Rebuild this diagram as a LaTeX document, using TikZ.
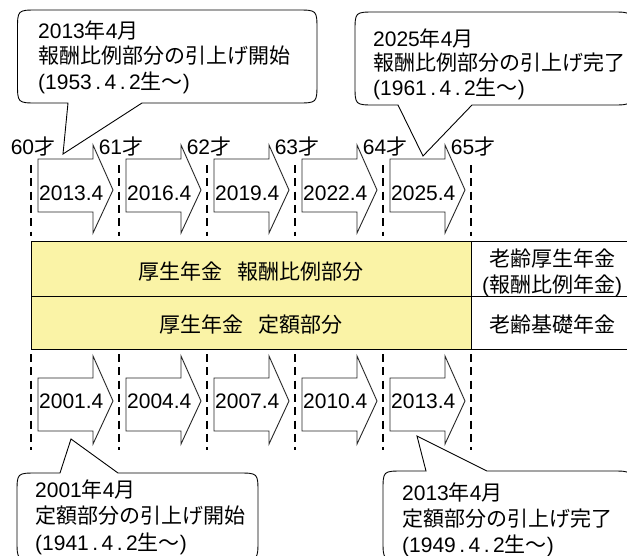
\documentclass[tikz,border=0pt]{standalone}
\usepackage{fontspec}
\setmainfont{Liberation Sans}
\newfontfamily\jfont{Noto Sans CJK JP}
\newcommand\J[1]{{\jfont #1}}
\newcommand\mydot{\hspace{3.5pt}.\hspace{3.5pt}}
\definecolor{yel}{RGB}{250,243,166}
\tikzset{
 txt/.style={inner sep=0pt, anchor=base west, font=\fontsize{21}{25}\selectfont},
 ctxt/.style={inner sep=0pt, anchor=base, font=\fontsize{21}{25}\selectfont},
 guideline/.style={draw=black, line width=2.2pt, dash pattern=on 8pt off 5.3pt},
 arrowbox/.style={draw=black!85, line width=0.9pt, fill=white, line join=miter},
 callbox/.style={draw=black, line width=0.9pt, fill=white},
 cellbox/.style={draw=black, line width=1.2pt, inner sep=0pt, anchor=north west},
}
% pointer on bottom edge
\newcommand\mycalloutdown[8]{%
 \draw[callbox] (#1+20,#2) -- (#3-20,#2) .. controls (#3,#2) .. (#3,#2+20)
  -- (#3,#4-20) .. controls (#3,#4) .. (#3-20,#4) -- (#6,#4) -- (#7,#8) -- (#5,#4)
  -- (#1+20,#4) .. controls (#1,#4) .. (#1,#4-20) -- (#1,#2+20)
  .. controls (#1,#2) .. (#1+20,#2) -- cycle;}
% pointer on top edge
\newcommand\mycalloutup[8]{%
 \draw[callbox] (#1+20,#2) -- (#5,#2) -- (#7,#8) -- (#6,#2) -- (#3-20,#2)
  .. controls (#3,#2) .. (#3,#2+20)
  -- (#3,#4-20) .. controls (#3,#4) .. (#3-20,#4)
  -- (#1+20,#4) .. controls (#1,#4) .. (#1,#4-20) -- (#1,#2+20)
  .. controls (#1,#2) .. (#1+20,#2) -- cycle;}
\begin{document}
\begin{tikzpicture}[x=1pt,y=-1pt]
\useasboundingbox (0,0) rectangle (627,555);
\clip (0,0) rectangle (627,555);
\fill[white] (0,0) rectangle (627,555);

% age labels
\foreach \a [count=\n from 0] in {60,61,62,63,64,65}
  \node[ctxt] (age\n) at (33+\n*88,154) {\a\J{才}};

% top arrows
\foreach \yr [count=\n from 0] in {2013.4,2016.4,2019.4,2022.4,2025.4}{
  \draw[arrowbox] (38+\n*88,159) -- (93+\n*88,159) -- (93+\n*88,145) -- (113+\n*88,190)
     -- (93+\n*88,233) -- (93+\n*88,212) -- (38+\n*88,212) -- cycle;
  \node[txt] (ta\n) at (39+\n*88,200) {\yr};
}
% bottom arrows
\foreach \yr [count=\n from 0] in {2001.4,2004.4,2007.4,2010.4,2013.4}{
  \draw[arrowbox] (38+\n*88,378) -- (93+\n*88,378) -- (93+\n*88,356) -- (113+\n*88,401)
     -- (93+\n*88,444) -- (93+\n*88,431) -- (38+\n*88,431) -- cycle;
  \node[txt] (ba\n) at (39+\n*88,408) {\yr};
}

% cells
\node[cellbox, fill=yel, minimum width=440pt, minimum height=54.5pt] (c1) at (31,241) {};
\node[cellbox, fill=yel, minimum width=440pt, minimum height=53.5pt] (c2) at (31,295.5) {};
\node[cellbox, fill=white, minimum width=160pt, minimum height=54.5pt] (c3) at (471,241) {};
\node[cellbox, fill=white, minimum width=160pt, minimum height=53.5pt] (c4) at (471,295.5) {};

\node[ctxt] (t1) at (251,279) {\J{厚生年金\hspace{16pt}報酬比例部分}};
\node[ctxt] (t2) at (251,332) {\J{厚生年金\hspace{16pt}定額部分}};
\node[ctxt] (t3) at (552,266.5) {\J{老齢厚生年金}};
\node[ctxt] (t4) at (552,292) {(\J{報酬比例年金})};
\node[ctxt] (t5) at (552,332) {\J{老齢基礎年金}};

% callouts
\mycalloutdown{17.5}{10}{317}{103}{68}{142}{63}{154}
\node[txt] (tl1) at (38,38) {2013\J{年}4\J{月}};
\node[txt] (tl2) at (38,63.5) {\J{報酬比例部分の引上げ開始}};
\node[txt] (tl3) at (38,89) {(1953\mydot4\mydot2\J{生～})};

\mycalloutdown{355}{12}{632}{105}{398}{472}{423}{156}
\node[txt] (tr1) at (373,46.5) {2025\J{年}4\J{月}};
\node[txt] (tr2) at (373,70.5) {\J{報酬比例部分の引上げ完了}};
\node[txt] (tr3) at (373,95) {(1961\mydot4\mydot2\J{生～})};

\mycalloutup{17}{473}{258}{560}{60}{118}{71}{439}
\node[txt] (bl1) at (35,497) {2001\J{年}4\J{月}};
\node[txt] (bl2) at (35,523.5) {\J{定額部分の引上げ開始}};
\node[txt] (bl3) at (35,550) {(1941\mydot4\mydot2\J{生～})};

\mycalloutup{383}{471}{632}{560}{426}{487}{417}{436}
\node[txt] (br1) at (402,500) {2013\J{年}4\J{月}};
\node[txt] (br2) at (402,526) {\J{定額部分の引上げ完了}};
\node[txt] (br3) at (402,552) {(1949\mydot4\mydot2\J{生～})};

% dashed guide lines
\foreach \k in {0,1,2,3,4,5}{
  \draw[guideline] (31+88*\k,165) -- (31+88*\k,236);
  \draw[guideline] (31+88*\k,354) -- (31+88*\k,450);
}
\end{tikzpicture}
\end{document}
